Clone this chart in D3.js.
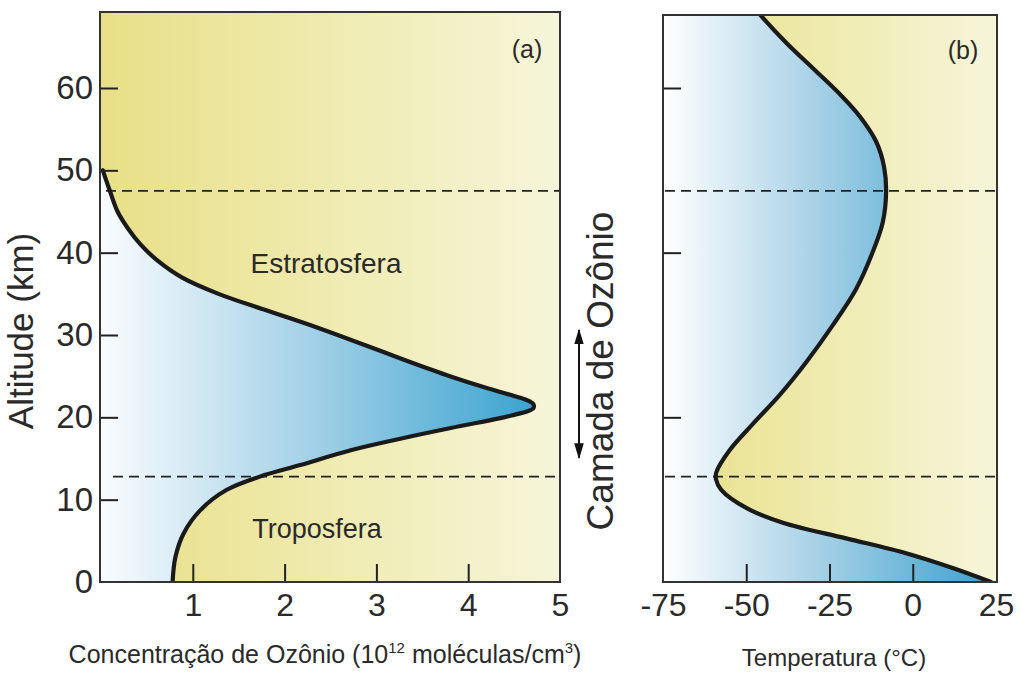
<!DOCTYPE html>
<html>
<head>
<meta charset="utf-8">
<script src="https://cdn.jsdelivr.net/npm/d3@7"></script>
<style>
  html, body { margin: 0; padding: 0; background: #ffffff; }
  svg { display: block; font-family: "Liberation Sans", Arial, Helvetica, sans-serif; }
  text { fill: #2a2a2a; }
</style>
</head>
<body>
<svg id="chart" width="1023" height="682"></svg>
<script>
// ---------------- DATA ----------------
// Panel (a): ozone concentration (10^12 molecules/cm^3) vs altitude (km)
const ozoneAlt  = [50, 49, 47.4, 45, 43, 41, 39, 37, 35, 33, 31, 29, 27, 25, 23.5, 22.6, 22.1, 21.6, 21.1, 20.7, 20.3, 19.9, 18.7, 17.4, 16.0, 14.2, 12.8, 11.2, 8.7, 5.9, 3.0, 0];
const ozoneConc = [0.02, 0.05, 0.1, 0.18, 0.29, 0.43, 0.62, 0.88, 1.28, 1.8, 2.33, 2.82, 3.3, 3.8, 4.22, 4.5, 4.64, 4.71, 4.71, 4.64, 4.5, 4.35, 3.81, 3.26, 2.72, 2.17, 1.73, 1.37, 1.08, 0.9, 0.81, 0.78];

// Panel (b): temperature (°C) vs altitude (km)
const tempAlt = [69.5, 68.8, 65.5, 62.4, 59.3, 56.6, 53.5, 50.4, 47.4, 43.7, 40.1, 35.6, 31.2, 26.7, 22.7, 19.2, 16.0, 13.3, 12.5, 11.2, 9.0, 7.2, 5.3, 3.5, 1.7, 0];
const tempVal = [-47, -45.6, -38, -30, -22, -16, -11, -8.6, -8, -9, -12, -17, -24, -32, -40, -48, -55, -59, -59.1, -57.5, -50, -39, -20, -2, 12, 23.5];

// Layer boundaries (km)
const boundaryAlt = [47.5, 12.8];

// Tick values / labels
const altTicks = [0, 10, 20, 30, 40, 50, 60];
const altTicksB = [20, 40, 60];
const concTicks = [1, 2, 3, 4, 5];
const tempTicks = [-75, -50, -25, 0, 25];

// Texts
const yTitle = "Altitude (km)";
const xTitleA = "Concentração de Ozônio (10";
const xTitleASup1 = "12";
const xTitleAMid = " moléculas/cm";
const xTitleASup2 = "3";
const xTitleB = "Temperatura (°C)";
const layerLabel = "Camada de Ozônio";
const stratLabel = "Estratosfera";
const tropLabel = "Troposfera";
const ozoneLayerRange = [30.6, 15.1];

// ---------------- LAYOUT ----------------
const svg = d3.select("#chart");
const defs = svg.append("defs");
const FONT = "Liberation Sans, Arial, sans-serif";
const fmt = d => String(d);

const y = d3.scaleLinear().domain([0, 60]).range([582, 88]);
const xA = d3.scaleLinear().domain([0, 5]).range([101, 560]);
const xB = d3.scaleLinear().domain([-75, 25]).range([663, 996]);

const panelA = { x0: 100, x1: 560, y0: 12, y1: 582 };
const panelB = { x0: 663, x1: 997, y0: 15, y1: 582 };

function grad(id, x1, x2, stops) {
  const g = defs.append("linearGradient").attr("id", id)
    .attr("gradientUnits", "userSpaceOnUse")
    .attr("x1", x1).attr("x2", x2).attr("y1", 0).attr("y2", 0);
  stops.forEach(s => g.append("stop").attr("offset", s[0]).attr("stop-color", s[1]));
}
grad("yellowA", panelA.x0, panelA.x1, [[0, "#e8df87"], [0.5, "#efebb0"], [1, "#f6f5da"]]);
grad("yellowB", panelB.x0, panelB.x1, [[0, "#e8df87"], [0.5, "#efebb0"], [1, "#f6f5da"]]);
grad("blueA", panelA.x0, 545, [[0, "#fafcfe"], [0.45, "#a8d3e8"], [1, "#37a1cf"]]);
grad("blueB", panelB.x0, panelB.x1, [[0, "#ffffff"], [0.45, "#a9d2e7"], [1, "#3a9fcd"]]);

function clip(id, p) {
  defs.append("clipPath").attr("id", id).append("rect")
    .attr("x", p.x0).attr("y", p.y0).attr("width", p.x1 - p.x0).attr("height", p.y1 - p.y0);
}
clip("clipA", panelA);
clip("clipB", panelB);

const curve = d3.curveCatmullRom.alpha(0.5);

// ---------------- PANEL A ----------------
const ozone = ozoneAlt.map((a, i) => ({ alt: a, v: ozoneConc[i] }));
const gA = svg.append("g");
gA.append("rect").attr("x", panelA.x0).attr("y", panelA.y0)
  .attr("width", panelA.x1 - panelA.x0).attr("height", panelA.y1 - panelA.y0)
  .attr("fill", "url(#yellowA)");
const gAc = gA.append("g").attr("clip-path", "url(#clipA)");
gAc.append("path").datum(ozone)
  .attr("d", d3.area().curve(curve).x0(xA(0)).x1(d => xA(d.v)).y(d => y(d.alt)))
  .attr("fill", "url(#blueA)");

gAc.append("line").attr("x1", 106).attr("x2", panelA.x1).attr("y1", y(boundaryAlt[0])).attr("y2", y(boundaryAlt[0]))
  .attr("stroke", "#222").attr("stroke-width", 1.8).attr("stroke-dasharray", "10,6");
gAc.append("line").attr("x1", 113).attr("x2", panelA.x1).attr("y1", y(boundaryAlt[1])).attr("y2", y(boundaryAlt[1]))
  .attr("stroke", "#222").attr("stroke-width", 1.8).attr("stroke-dasharray", "10,6");

gAc.append("path").datum(ozone)
  .attr("d", d3.line().curve(curve).x(d => xA(d.v)).y(d => y(d.alt)))
  .attr("fill", "none").attr("stroke", "#1a1a1a").attr("stroke-width", 4.2)
  .attr("stroke-linejoin", "round").attr("stroke-linecap", "round");

const axLA = gA.append("g").attr("transform", `translate(${panelA.x0},0)`)
  .call(d3.axisLeft(y).tickValues(altTicks).tickSize(-18).tickPadding(7).tickFormat(fmt));
axLA.select(".domain").remove();
axLA.selectAll(".tick line").attr("stroke", "#222").attr("stroke-width", 2).filter(d => d === 0).remove();
axLA.selectAll(".tick text").attr("font-size", 33).attr("fill", "#2a2a2a").attr("font-family", FONT);

const axBA = gA.append("g").attr("transform", `translate(0,${panelA.y1})`)
  .call(d3.axisBottom(xA).tickValues(concTicks).tickSize(-18).tickPadding(11).tickFormat(fmt));
axBA.select(".domain").remove();
axBA.selectAll(".tick line").attr("stroke", "#222").attr("stroke-width", 2).filter(d => d === 5).remove();
axBA.selectAll(".tick text").attr("font-size", 32).attr("fill", "#2a2a2a").attr("font-family", FONT);

gA.append("rect").attr("x", panelA.x0).attr("y", panelA.y0)
  .attr("width", panelA.x1 - panelA.x0).attr("height", panelA.y1 - panelA.y0)
  .attr("fill", "none").attr("stroke", "#333").attr("stroke-width", 2);

gA.append("text").attr("x", 527).attr("y", 58).attr("text-anchor", "middle").attr("font-size", 25).text("(a)");
gA.append("text").attr("x", 326).attr("y", 273).attr("text-anchor", "middle").attr("font-size", 28).text(stratLabel);
gA.append("text").attr("x", 317).attr("y", 538).attr("text-anchor", "middle").attr("font-size", 27).text(tropLabel);

svg.append("text").attr("transform", "translate(33,331) rotate(-90)")
  .attr("text-anchor", "middle").attr("font-size", 35).text(yTitle);

const tA = svg.append("text").attr("x", 325).attr("y", 663).attr("text-anchor", "middle").attr("font-size", 25);
tA.append("tspan").text(xTitleA);
tA.append("tspan").attr("dy", -10).attr("font-size", 15).text(xTitleASup1);
tA.append("tspan").attr("dy", 10).text(xTitleAMid);
tA.append("tspan").attr("dy", -10).attr("font-size", 15).text(xTitleASup2);
tA.append("tspan").attr("dy", 10).text(")");

// ---------------- PANEL B ----------------
const temp = tempAlt.map((a, i) => ({ alt: a, v: tempVal[i] }));
const gB = svg.append("g");
gB.append("rect").attr("x", panelB.x0).attr("y", panelB.y0)
  .attr("width", panelB.x1 - panelB.x0).attr("height", panelB.y1 - panelB.y0)
  .attr("fill", "url(#yellowB)");
const gBc = gB.append("g").attr("clip-path", "url(#clipB)");
gBc.append("path").datum(temp)
  .attr("d", d3.area().curve(curve).x0(xB(-75)).x1(d => xB(d.v)).y(d => y(d.alt)))
  .attr("fill", "url(#blueB)");

boundaryAlt.forEach(a => {
  gBc.append("line").attr("x1", 665).attr("x2", panelB.x1).attr("y1", y(a)).attr("y2", y(a))
    .attr("stroke", "#222").attr("stroke-width", 1.8).attr("stroke-dasharray", "10,6");
});

gBc.append("path").datum(temp)
  .attr("d", d3.line().curve(curve).x(d => xB(d.v)).y(d => y(d.alt)))
  .attr("fill", "none").attr("stroke", "#1a1a1a").attr("stroke-width", 4.2)
  .attr("stroke-linejoin", "round").attr("stroke-linecap", "round");

const axLB = gB.append("g").attr("transform", `translate(${panelB.x0},0)`)
  .call(d3.axisLeft(y).tickValues(altTicksB).tickSize(-18).tickFormat(""));
axLB.select(".domain").remove();
axLB.selectAll(".tick line").attr("stroke", "#222").attr("stroke-width", 2);

const axBB = gB.append("g").attr("transform", `translate(0,${panelB.y1})`)
  .call(d3.axisBottom(xB).tickValues(tempTicks).tickSize(-18).tickPadding(11).tickFormat(fmt));
axBB.select(".domain").remove();
axBB.selectAll(".tick line").attr("stroke", "#222").attr("stroke-width", 2).filter(d => d === -75 || d === 25).remove();
axBB.selectAll(".tick text").attr("font-size", 32).attr("fill", "#2a2a2a").attr("font-family", FONT);

gB.append("rect").attr("x", panelB.x0).attr("y", panelB.y0)
  .attr("width", panelB.x1 - panelB.x0).attr("height", panelB.y1 - panelB.y0)
  .attr("fill", "none").attr("stroke", "#333").attr("stroke-width", 2);

gB.append("text").attr("x", 963).attr("y", 59).attr("text-anchor", "middle").attr("font-size", 25).text("(b)");

svg.append("text").attr("x", 834).attr("y", 666).attr("text-anchor", "middle").attr("font-size", 24).text(xTitleB);

// ---------------- OZONE LAYER ARROW ----------------
defs.append("marker").attr("id", "ah").attr("viewBox", "0 0 10 10")
  .attr("refX", 9).attr("refY", 5).attr("markerWidth", 16).attr("markerHeight", 16)
  .attr("markerUnits", "userSpaceOnUse").attr("orient", "auto-start-reverse")
  .append("path").attr("d", "M0,2 L10,5 L0,8 z").attr("fill", "#111");
svg.append("line").attr("x1", 579).attr("x2", 579)
  .attr("y1", y(ozoneLayerRange[0])).attr("y2", y(ozoneLayerRange[1]))
  .attr("stroke", "#111").attr("stroke-width", 2)
  .attr("marker-start", "url(#ah)").attr("marker-end", "url(#ah)");

svg.append("text").attr("transform", "translate(613,371) rotate(-90)")
  .attr("text-anchor", "middle").attr("font-size", 37).text(layerLabel);
</script>
</body>
</html>
